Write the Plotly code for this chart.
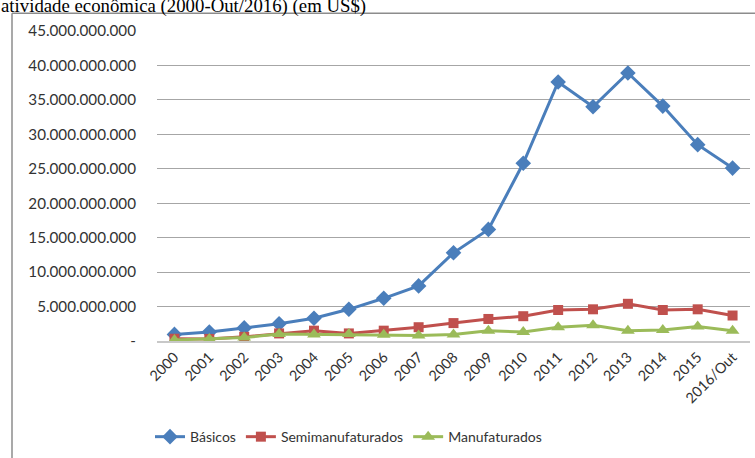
import plotly.graph_objects as go

# ---- data ----
years = ["2000", "2001", "2002", "2003", "2004", "2005", "2006", "2007", "2008",
         "2009", "2010", "2011", "2012", "2013", "2014", "2015", "2016/Out"]
basicos = [960e6, 1.3e9, 1.9e9, 2.5e9, 3.3e9, 4.6e9, 6.2e9, 8.0e9, 12.8e9,
           16.2e9, 25.8e9, 37.6e9, 34.0e9, 38.9e9, 34.1e9, 28.5e9, 25.1e9]
semimanufaturados = [330e6, 300e6, 600e6, 1.1e9, 1.5e9, 1.1e9, 1.5e9, 2.0e9, 2.6e9,
                     3.2e9, 3.6e9, 4.5e9, 4.6e9, 5.4e9, 4.5e9, 4.6e9, 3.7e9]
manufaturados = [150e6, 300e6, 500e6, 1.0e9, 950e6, 1.0e9, 900e6, 800e6, 950e6,
                 1.5e9, 1.3e9, 2.0e9, 2.3e9, 1.5e9, 1.6e9, 2.1e9, 1.5e9]
y_tick_vals = [0, 5e9, 10e9, 15e9, 20e9, 25e9, 30e9, 35e9, 40e9, 45e9]
y_tick_labels = ["-", "5.000.000.000", "10.000.000.000", "15.000.000.000",
                 "20.000.000.000", "25.000.000.000", "30.000.000.000",
                 "35.000.000.000", "40.000.000.000", "45.000.000.000"]
title_text = "atividade econômica (2000-Out/2016) (em US$)"

W, H = 755, 458
L, R, T, B = 157, 5, 31, 114
pw, ph = W - L - R, H - T - B


def px(x):
    return (x - L) / pw


def py(y):
    return (H - B - y) / ph


fig = go.Figure()
fig.add_trace(go.Scatter(x=years, y=basicos, name="Básicos", mode="lines+markers",
                         line=dict(color="#4A7EBB", width=3),
                         marker=dict(symbol="diamond", size=12, color="#4A7EBB")))
fig.add_trace(go.Scatter(x=years, y=semimanufaturados, name="Semimanufaturados",
                         mode="lines+markers",
                         line=dict(color="#C0504D", width=3),
                         marker=dict(symbol="square", size=10, color="#C0504D")))
fig.add_trace(go.Scatter(x=years, y=manufaturados, name="Manufaturados",
                         mode="lines+markers",
                         line=dict(color="#9BBB59", width=3),
                         marker=dict(symbol="triangle-up", size=12, color="#9BBB59")))

fig.update_layout(
    width=W, height=H,
    margin=dict(l=L, r=R, t=T, b=B, pad=0),
    paper_bgcolor="white", plot_bgcolor="white",
    font=dict(family="Lato, sans-serif", size=14, color="#333333"),
    showlegend=True,
    legend=dict(orientation="h", x=px(150), xanchor="left", y=py(441),
                yanchor="middle", font=dict(size=14, color="#333333"),
                traceorder="normal", itemwidth=30),
    xaxis=dict(type="category", range=[-0.5, 16.5], showgrid=False,
               showline=True, linecolor="#c8c8c8", linewidth=2,
               tickangle=-45, ticks="", tickfont=dict(size=14.5, color="#333333")),
    yaxis=dict(range=[0, 45e9], tickvals=y_tick_vals, ticktext=y_tick_labels,
               showgrid=True, gridcolor="#a6a6a6", gridwidth=1,
               zeroline=False, showline=False, ticks="",
               ticklabelstandoff=20, tickfont=dict(size=15.2, color="#333333")),
    shapes=[
        dict(type="line", xref="paper", yref="paper", x0=px(12), x1=px(W + 5),
             y0=py(13), y1=py(13), line=dict(color="#8c8c8c", width=1.5)),
        dict(type="line", xref="paper", yref="paper", x0=px(12), x1=px(12),
             y0=py(13), y1=py(H + 5), line=dict(color="#8c8c8c", width=1.5)),
    ],
    annotations=[
        dict(text=title_text, xref="paper", yref="paper", x=px(-1), xanchor="left",
             y=py(19), yanchor="bottom", showarrow=False,
             font=dict(family="Liberation Serif, Times New Roman, serif", size=18.8,
                       color="black")),
    ],
)

fig.write_html("out.html", config={"displayModeBar": False},
               post_script="document.body.style.margin='0px';document.body.style.overflow='hidden';")
